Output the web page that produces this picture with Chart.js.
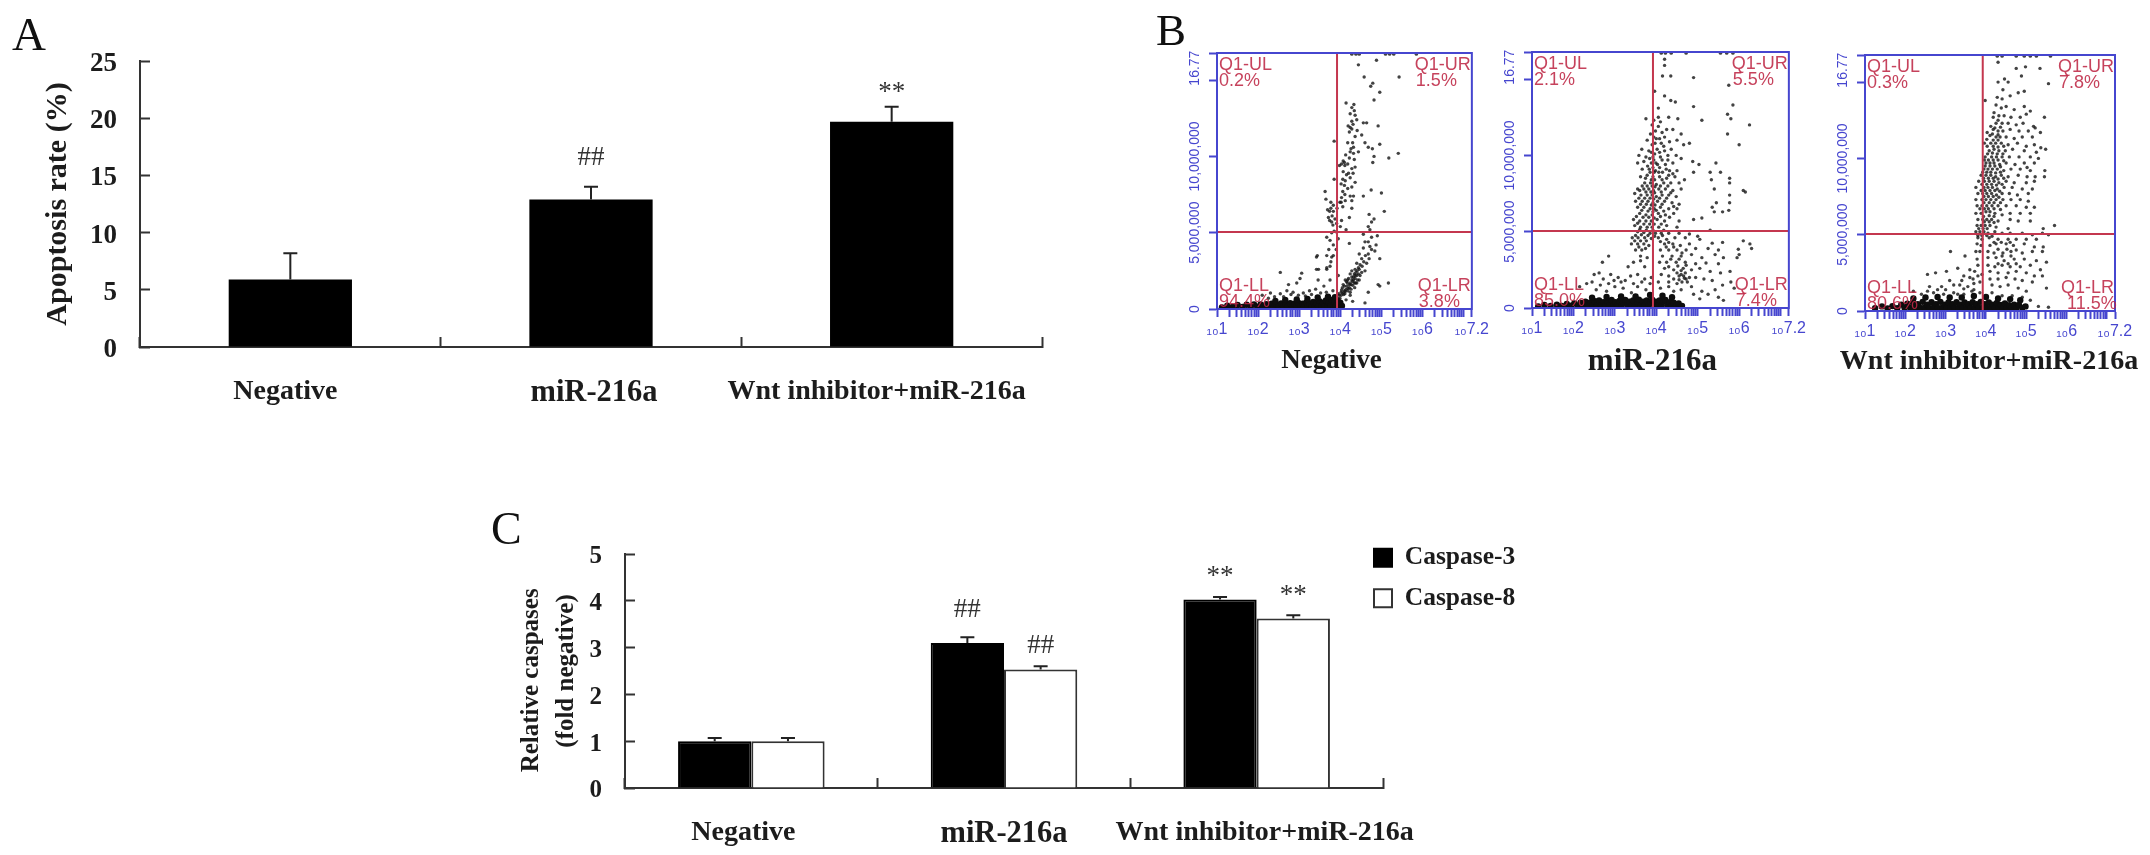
<!DOCTYPE html>
<html><head><meta charset="utf-8">
<script src="https://cdn.jsdelivr.net/npm/chart.js@4"></script>
<style>
html,body{margin:0;padding:0;background:#fff;width:2150px;height:855px;overflow:hidden}
#wrap{position:relative;width:2150px;height:855px;filter:blur(.7px)}
.box{position:absolute}
.letter{position:absolute;font-family:"Liberation Serif",serif;color:#111;line-height:1}
</style></head><body>
<div id="wrap">
<div class="letter" style="left:12px;top:11px;font-size:47px">A</div>
<div class="letter" style="left:1156px;top:8px;font-size:45px">B</div>
<div class="letter" style="left:491px;top:506px;font-size:46px">C</div>
<div class="box" style="left:0;top:0;width:1100px;height:430px"><canvas id="chartA"></canvas></div>
<div class="box" style="left:480px;top:500px;width:1050px;height:355px"><canvas id="chartC"></canvas></div>
<div class="box" style="left:1147px;top:35px;width:345px;height:354px"><canvas id="flow0"></canvas></div>
<div class="box" style="left:1462px;top:34px;width:347px;height:354px"><canvas id="flow1"></canvas></div>
<div class="box" style="left:1795px;top:37px;width:350px;height:354px"><canvas id="flow2"></canvas></div>
</div>
<script>
const groupLabels=['Negative','miR-216a','Wnt inhibitor+miR-216a'];
const apoptosisRate=[5.9,12.9,19.7];
const apoptosisErr=[2.3,1.1,1.3];
const apoptosisMarks=['','##','**'];
const apoptosisMarkLevel=[null,16.5,22.2];
const caspase3=[1.0,3.1,4.03];
const caspase3Err=[0.07,0.12,0.05];
const caspase3Marks=['','##','**'];
const caspase3MarkLevel=[null,3.81,4.52];
const caspase8=[1.0,2.53,3.62];
const caspase8Err=[0.07,0.07,0.07];
const caspase8Marks=['','##','**'];
const caspase8MarkLevel=[null,3.03,4.1];
const yTicksA=[0,5,10,15,20,25];
const yTicksC=[0,1,2,3,4,5];
const flowTitles=['Negative','miR-216a','Wnt inhibitor+miR-216a'];
const flowQuadrants=[
 ['0.2%','1.5%','94.4%','3.8%'],
 ['2.1%','5.5%','85.0%','7.4%'],
 ['0.3%','7.8%','80.6%','11.5%']];
const flowYTicks=[0,5,10,15,16.777];
const flowYLabels=['0','5,000,000','10,000,000','16.77',''];
const flowXDecades=[1,2,3,4,5,6,7];
const gateX=[3.92,3.92,3.92];
const gateY=[5.05,5.05,5.05];

const negEvents=[[4.28,16.7],[4.38,16.7],[4.46,16.7],[5.1,16.7],[5.2,16.7],[5.3,16.7],[5.85,16.7],[4.44,16],[4.88,16.3],[4.58,15.2],[5.43,15.2],[4.79,14.8],[4.74,14.6],[4.96,14.2],[4.82,13.7],[4.14,13.5],[4.33,13.4],[4.28,13.2],[4.24,12.8],[4.36,12.7],[4.4,12.4],[4.28,12.3],[4.56,12.2],[4.64,12.2],[4.92,12],[4.19,12],[4.28,11.8],[4.22,11.6],[4.41,11.7],[4.52,11.4],[4.6,10.9],[4.96,10.8],[3.85,11],[4.3,10.9],[4.32,10.6],[4.68,10.6],[4.78,10.5],[4.24,10.3],[4.44,10.3],[4.32,10.2],[5.41,10.2],[5.18,9.9],[4.82,10],[4.79,9.6],[4.07,9.7],[4.03,9.5],[3.98,9.4],[4.11,9.4],[4.28,9.2],[4.36,9.3],[4.07,9],[4.15,8.8],[4.24,8.6],[3.85,8.5],[4.06,8.5],[4.36,8.3],[4.1,8.1],[4.28,8],[4.75,7.8],[3.63,7.7],[5,7.6],[4.06,7.7],[4.24,7.4],[4.32,7.4],[4.56,7.4],[4.03,7.3],[3.65,7.2],[4.28,7.1],[3.99,7],[3.77,7],[3.83,6.8],[4.06,6.7],[4.28,6.6],[3.77,6.6],[5.07,6.4],[3.83,6.4],[4.7,6.2],[3.71,6],[4.22,6],[3.87,5.9],[4.82,5.9],[4.03,5.8],[4.76,5.7],[3.79,5.7],[3.91,5.6],[4.68,5.4],[4.72,5.2],[3.85,5.1],[3.91,5.05],[3.79,5],[4.56,4.9],[3.67,4.7],[3.95,4.6],[4.9,4.8],[4.76,4.7],[4.68,4.4],[4.6,4.4],[4.87,4.2],[4.22,4.3],[3.83,4.2],[4.72,4.1],[4.56,4],[4.68,3.6],[4.84,3.8],[4.46,3.6],[3.83,3.5],[3.44,3.5],[3.67,3.5],[4.96,3.3],[4.52,3.3],[4.4,3],[4.64,3],[4.48,2.9],[3.75,2.8],[3.67,2.6],[3.47,2.6],[4.36,2.6],[4.52,2.4],[4.24,2.3],[4.4,2.2],[4.32,2.1],[4.6,2.5],[3.95,2.2],[4.44,2.7],[4.38,2.4],[4.48,2.2],[4.28,2.5],[4.2,2],[4.3,1.8],[4.4,1.7],[4.12,1.9],[4.22,1.6],[5.17,1.7],[4.96,1.5],[4.92,1.6],[4.15,1.8],[4.24,1.7],[4.32,1.9],[4.07,1.6],[4.19,1.35],[4.03,1.25],[4.11,1],[3.95,1],[3.99,0.7],[4.24,0.9],[4.68,1.1],[4.6,0.4],[4.05,1.4],[4.1,1.2],[4.16,1.5],[4.26,1.3],[4.35,1.4],[4.36,2],[4.46,1.9],[4.02,0.9],[4.14,0.6],[4.3,0.5],[2.54,2.4],[3.06,2.35],[3.02,2],[2.74,1.6],[2.94,1.7],[3.46,1.9],[3.42,2.6],[3.67,2.7],[3.79,3.4],[3.42,3.4],[2.3,1.05],[2.54,1],[2.7,1.2],[3.1,1.05],[3.4,1.3],[2.1,0.9],[2.85,1.1],[3.25,1.2],[3.6,1.5],[3.75,1.9]];
const negDense=[[4.34,13],[4.31,12.1],[4.24,11.9],[4.36,11.3],[4.18,10.9],[4.26,10.5],[4.13,10.1],[4.22,9.9],[4.34,9.8],[4.18,9.5],[4.1,9.6],[4.31,8.9],[4.2,8.9],[4.12,8.4],[4.02,8.2],[4.18,7.9],[4.11,7.5],[4.02,7],[3.92,6.6],[4.12,7.1],[3.74,6.4],[3.8,6.1],[3.69,6.5],[3.74,5.8],[3.82,5.5],[4,5.4],[4.14,5.2],[3.75,4.5],[3.72,3.9],[3.9,3.9],[3.77,3.1],[4.76,3.9],[4.7,3.3],[4.61,3.5],[4.57,3.1],[4.53,2.8],[4.46,2.6],[4.41,2.5],[4.34,2.3],[4.44,2.3],[4.36,2.2],[4.28,2.1],[4.42,1.9],[4.34,1.7],[4.26,1.6],[4.28,1.9],[4.17,1.7],[4.18,1.2],[4.24,1.1],[4.1,1.5],[4.08,0.95],[4.14,1.3],[4.02,1.1],[3.97,0.9],[4.22,1.4],[4.3,1.55],[4.12,1.15],[4.06,1.05],[4.37,1.7],[4.18,1.9],[2.62,0.8],[2.8,0.95],[2.98,0.9],[3.15,0.85],[3.3,0.95],[3.52,1.05],[3.66,1.1],[3.82,1.2],[2.4,0.8],[2.25,0.7]];
const negBand=[[1.12,0.1],[1.25,0.22],[1.38,0.14],[1.5,0.26],[1.62,0.14],[1.72,0.28],[1.82,0.14],[1.9,0.3],[1.98,0.14],[2.06,0.3],[2.12,0.16],[2.2,0.32],[2.26,0.16],[2.33,0.34],[2.39,0.16],[2.45,0.3],[2.5,0.18],[2.56,0.36],[2.61,0.16],[2.67,0.34],[2.72,0.17],[2.78,0.38],[2.83,0.17],[2.88,0.35],[2.93,0.16],[2.98,0.4],[3.03,0.17],[3.08,0.35],[3.12,0.18],[3.17,0.42],[3.21,0.17],[3.25,0.36],[3.3,0.18],[3.34,0.46],[3.38,0.18],[3.42,0.38],[3.46,0.17],[3.5,0.5],[3.54,0.2],[3.58,0.4],[3.62,0.18],[3.65,0.56],[3.69,0.2],[3.72,0.42],[3.76,0.2],[3.79,0.6],[3.83,0.22],[3.86,0.45],[3.89,0.22],[3.93,0.58],[3.97,0.22],[4,0.42],[4.04,0.2],[2.42,0.52],[2.66,0.6],[2.94,0.62],[3.2,0.66],[3.45,0.75],[3.7,0.8],[3.87,0.78]];

const mirEvents=[[4.12,16.7],[4.22,16.7],[4.36,16.7],[4.72,16.7],[5.55,16.7],[5.7,16.7],[5.85,16.7],[4.2,16.3],[4.2,15.9],[4.15,15.2],[4.35,15.2],[4.9,15.1],[5.75,14.6],[3.96,14.2],[4.2,13.9],[4.35,13.6],[4.46,13.5],[4.05,13.1],[4.9,13.2],[5.85,13.3],[5.72,12.7],[5.1,12.3],[3.75,12.4],[4.05,12.5],[4.3,12.5],[4.52,12.4],[5.8,12.4],[3.9,12],[4.05,11.9],[4.25,11.7],[4.4,11.7],[4.6,11.4],[6.25,12],[5.72,11.4],[4.0,11.1],[4.2,11.2],[4.5,11],[3.78,11],[3.9,10.7],[4.12,10.8],[4.32,10.9],[4.66,10.7],[4.8,10.8],[6,10.7],[3.65,10.4],[3.82,10.3],[4.02,10.4],[4.2,10.3],[4.36,10.4],[3.58,10],[3.75,9.9],[3.92,9.9],[4.1,9.9],[4.28,10],[4.48,10],[4.6,9.8],[4.88,9.6],[5.03,9.4],[3.55,9.5],[3.7,9.6],[3.88,9.5],[4.03,9.4],[4.22,9.4],[4.4,9.5],[5.44,9.5],[3.66,9.1],[3.83,9.1],[3.98,9],[4.15,8.9],[4.32,9],[4.5,9],[4.9,8.9],[5.3,8.9],[5.55,8.9],[3.62,8.6],[3.78,8.7],[3.92,8.6],[4.08,8.6],[4.25,8.5],[4.45,8.6],[4.68,8.4],[5.33,8.4],[5.77,8.5],[3.72,8.2],[3.86,8.2],[4,8.1],[4.18,8.2],[4.35,8.2],[4.55,8.2],[5.77,8.2],[3.55,7.8],[3.7,7.8],[3.82,7.8],[3.93,7.7],[4.06,7.8],[4.22,7.8],[4.4,7.7],[4.6,7.8],[5.4,7.8],[6.1,7.7],[3.48,7.5],[3.63,7.4],[3.78,7.4],[3.9,7.4],[4,7.3],[4.14,7.4],[4.3,7.4],[4.48,7.3],[5.77,7.4],[6.15,7.6],[3.5,7],[3.66,7],[3.8,7],[3.92,6.9],[4.03,7],[4.2,7],[4.38,6.9],[4.55,6.8],[5.45,6.9],[5.77,6.9],[3.55,6.6],[3.7,6.6],[3.85,6.5],[3.95,6.5],[4.1,6.6],[4.3,6.5],[4.5,6.5],[5.35,6.6],[5.6,6.3],[3.6,6.2],[3.75,6.1],[3.9,6.1],[4.05,6.2],[4.22,6.1],[4.42,6.2],[5.4,6.3],[5.75,6.4],[3.45,5.8],[3.6,5.7],[3.75,5.7],[3.88,5.7],[4.02,5.8],[4.2,5.7],[4.55,5.7],[4.9,5.8],[5.1,5.9],[3.48,5.4],[3.62,5.3],[3.78,5.3],[3.9,5.3],[4.06,5.3],[4.25,5.4],[4.5,5.3],[3.55,5],[3.7,4.95],[3.85,4.9],[3.98,4.9],[4.12,4.9],[4.3,4.9],[4.55,4.9],[4.8,4.85],[5.3,5.1],[3.42,4.6],[3.56,4.6],[3.72,4.6],[3.88,4.55],[4.05,4.6],[4.25,4.5],[4.45,4.6],[4.7,4.6],[5,4.7],[5.05,4.5],[3.4,4.2],[3.55,4.2],[3.7,4.2],[3.82,4.1],[4.2,4.2],[4.4,4.2],[4.58,4.1],[4.8,4.2],[5.35,4.25],[5.6,4.3],[6.1,4.4],[6.26,4.2],[3.5,3.8],[3.65,3.8],[4.1,3.8],[4.3,3.8],[4.5,3.8],[4.72,3.8],[4.95,3.9],[5.25,3.9],[5.5,3.8],[5.98,3.85],[6.3,3.9],[6,3.5],[3.62,3.4],[3.78,3.3],[4.15,3.4],[4.38,3.4],[4.6,3.4],[4.85,3.5],[5.1,3.3],[5.42,3.5],[5.62,3.3],[5.95,3.3],[2.85,3.4],[2.7,3],[3.45,3],[3.62,3.1],[4.08,3],[4.25,3],[4.48,3],[4.7,3],[4.95,2.9],[5.2,2.95],[5.5,2.9],[3.32,2.7],[3.72,2.7],[4.2,2.6],[4.42,2.5],[4.65,2.6],[4.85,2.5],[5.05,2.6],[5.3,2.4],[5.55,2.3],[5.78,2.4],[2.15,1.4],[2.5,2.2],[2.62,2.3],[2.45,1.7],[2.32,1.6],[2.72,1.9],[2.9,2.2],[3.08,2],[3.25,1.8],[3.38,2.1],[3.55,2.2],[3.72,1.9],[3.88,2],[4.12,2.2],[4.3,2.1],[4.5,2.3],[4.6,2.2],[4.66,2.1],[4.72,1.9],[4.8,2],[4.62,1.7],[4.5,1.6],[4.95,2],[5.15,1.9],[5.35,1.8],[5.6,1.5],[5.8,1.7],[5.88,1.3],[5.42,1.2],[2.55,1.2],[2.8,1.1],[3,1.4],[3.2,1.3],[3.4,1],[3.55,1.4],[3.75,1.2],[4.1,1.3],[4.3,1.4],[4.42,1.1],[4.6,1.2],[4.85,1.4],[5.1,1.1],[5.25,0.9],[5.5,0.7],[5.62,0.5],[5.05,0.6],[4.9,0.9]];
const mirDense=[[3.94,12.3],[4.1,12.2],[3.98,11.6],[4.14,11.5],[3.86,11.4],[3.94,11.2],[4.08,11.1],[3.97,10.8],[4.18,10.6],[3.88,10.2],[3.96,10.1],[4.08,10.2],[4.14,9.7],[3.84,9.8],[3.94,9.7],[3.99,9.5],[4.28,9.7],[3.79,9.3],[3.92,9.2],[4.08,9.2],[4.24,9.1],[3.85,8.9],[3.95,8.9],[4.06,8.9],[4.4,8.8],[3.74,8.5],[3.88,8.4],[3.96,8.4],[4.14,8.4],[4.3,8.7],[3.66,8],[3.78,8],[3.9,8],[3.97,7.95],[4.1,8],[4.28,8],[3.6,7.7],[3.75,7.6],[3.87,7.6],[3.96,7.55],[4.12,7.6],[4.35,7.55],[3.58,7.2],[3.72,7.2],[3.85,7.2],[3.94,7.15],[4.08,7.2],[4.25,7.2],[3.62,6.8],[3.76,6.8],[3.88,6.75],[3.97,6.75],[4.14,6.8],[4.42,6.65],[3.65,6.4],[3.8,6.35],[3.92,6.3],[4,6.4],[4.18,6.35],[3.52,6],[3.68,5.95],[3.82,5.95],[3.95,5.9],[4.1,6],[4.32,5.95],[3.55,5.55],[3.7,5.5],[3.84,5.5],[3.95,5.5],[4.12,5.5],[3.6,5.15],[3.76,5.1],[3.92,5.1],[4.18,5.1],[3.5,4.75],[3.64,4.8],[3.8,4.75],[3.96,4.7],[4.15,4.75],[3.48,4.4],[3.62,4.4],[3.76,4.4],[4.1,4.35],[4.3,4.3],[3.58,4],[3.74,3.9],[4.24,4],[4.42,4],[4.62,3.6],[4.55,3.2],[4.35,3.2],[4.72,2.8],[4.52,2.75],[4.3,2.7],[4.6,2.45],[4.7,2.3],[4.55,2.1],[4.68,1.95],[4.55,1.85],[4.42,1.9],[4.75,1.7],[4.3,1.7],[4.05,1.7],[3.85,1.6],[3.65,1.7],[3.45,1.6],[3.15,1.7],[2.98,1.8],[2.85,1.6],[2.65,1.5]];
const mirBand=[[1.15,0.1],[1.3,0.2],[1.45,0.14],[1.6,0.22],[1.72,0.14],[1.84,0.26],[1.94,0.15],[2.02,0.3],[2.1,0.15],[2.17,0.34],[2.23,0.17],[2.29,0.42],[2.35,0.17],[2.41,0.36],[2.46,0.16],[2.52,0.44],[2.57,0.17],[2.62,0.5],[2.67,0.18],[2.72,0.38],[2.77,0.16],[2.82,0.46],[2.87,0.18],[2.92,0.52],[2.97,0.18],[3.01,0.38],[3.06,0.17],[3.11,0.46],[3.16,0.16],[3.2,0.38],[3.25,0.52],[3.3,0.18],[3.35,0.42],[3.4,0.17],[3.44,0.5],[3.49,0.16],[3.54,0.4],[3.58,0.54],[3.63,0.18],[3.68,0.42],[3.72,0.17],[3.77,0.5],[3.81,0.16],[3.86,0.4],[3.9,0.54],[3.95,0.18],[3.99,0.42],[4.04,0.17],[4.08,0.5],[4.13,0.16],[4.18,0.42],[4.22,0.52],[4.27,0.18],[4.32,0.38],[4.37,0.16],[4.42,0.34],[4.48,0.16],[4.54,0.3],[4.62,0.14],[2.45,0.68],[2.8,0.72],[3.15,0.75],[3.5,0.75],[3.85,0.85],[4.15,0.8],[4.38,0.7]];

const wntEvents=[[4.28,16.7],[4.4,16.7],[4.75,16.7],[4.95,16.7],[5.1,16.7],[5.25,16.7],[5.6,16.7],[4.3,16.3],[4.75,15.9],[4.98,16],[5.34,15.9],[4.88,15.4],[4.46,15.2],[4.55,15],[5.55,14.9],[4.3,15],[4.42,14.5],[4.8,14.3],[4.95,14.4],[4.28,14],[4.4,13.9],[4.6,14.1],[3.98,13.8],[4.25,13.5],[4.38,13.3],[4.5,13.4],[4.7,13.2],[4.95,13.4],[5.1,13.1],[4.2,13],[4.32,12.8],[4.45,12.8],[4.62,12.7],[4.85,12.7],[5,12.9],[5.45,12.7],[4.25,12.3],[4.4,12.3],[4.55,12.3],[4.75,12.2],[4.92,12.3],[5.18,12.1],[4.18,11.9],[4.3,11.8],[4.42,11.8],[4.6,11.9],[4.82,11.8],[5.05,11.8],[5.22,12],[5.35,11.7],[4.1,11.5],[4.25,11.4],[4.35,11.4],[4.5,11.4],[4.7,11.3],[4.9,11.4],[5.15,11.4],[3.96,11],[4.12,11],[4.24,11],[4.38,11],[4.55,10.9],[4.78,11],[5,10.8],[5.2,10.9],[5.36,10.7],[4.08,10.5],[4.2,10.6],[4.32,10.5],[4.48,10.5],[4.66,10.6],[4.95,10.5],[5.25,10.4],[5.48,10.6],[3.98,10.1],[4.14,10.1],[4.26,10.1],[4.4,10.1],[4.58,10.1],[4.82,10.1],[5.1,10.1],[5.3,10],[4,9.7],[4.1,9.7],[4.2,9.7],[4.34,9.6],[4.5,9.7],[4.72,9.6],[4.95,9.7],[5.2,9.7],[5.02,9.4],[3.95,9.3],[4.05,9.3],[4.16,9.3],[4.28,9.3],[4.44,9.2],[4.62,9.3],[4.85,9.3],[5.1,9.2],[5.46,9.2],[5.45,8.8],[3.88,8.9],[4,8.9],[4.12,8.9],[4.24,8.8],[4.38,8.9],[4.55,8.8],[4.8,8.9],[5.02,8.8],[5.22,8.8],[3.82,8.5],[3.96,8.5],[4.08,8.5],[4.2,8.5],[4.32,8.4],[4.5,8.5],[4.7,8.4],[5,8.4],[5.2,8.5],[3.75,8.1],[3.95,8.1],[4.05,8.1],[4.16,8.1],[4.28,8],[4.45,8.1],[4.65,8.1],[4.9,8],[5.15,8],[3.8,7.7],[3.92,7.7],[4.02,7.7],[4.14,7.7],[4.26,7.6],[4.4,7.7],[4.58,7.7],[4.78,7.6],[5.05,7.7],[3.75,7.3],[3.9,7.3],[4,7.3],[4.12,7.3],[4.25,7.3],[4.42,7.3],[4.62,7.3],[4.85,7.3],[5.05,7.2],[3.78,6.9],[3.9,6.9],[4.02,6.9],[4.15,6.9],[4.3,6.9],[4.5,6.9],[4.75,6.9],[5,6.8],[5.2,6.8],[3.75,6.4],[3.88,6.4],[4,6.5],[4.1,6.5],[4.22,6.4],[4.4,6.3],[4.6,6.4],[4.85,6.4],[5.1,6.4],[3.8,6],[3.92,6],[4.02,6],[4.14,6],[4.3,5.9],[4.6,6],[4.8,5.9],[5.1,5.9],[3.78,5.6],[3.88,5.6],[3.98,5.6],[4.1,5.6],[4.25,5.5],[5.7,5.6],[4.55,5.4],[5.42,5.4],[3.75,5.2],[3.85,5.2],[3.95,5.2],[4.05,5.1],[4.22,5.2],[4.4,5.1],[4.6,5.1],[4.9,5.1],[5.15,5],[5.4,5.1],[5.55,5],[3.8,4.8],[3.9,4.7],[4.08,4.8],[4.3,4.7],[4.55,4.7],[4.75,4.7],[5,4.7],[5.25,4.7],[3.78,4.4],[3.88,4.3],[4.1,4.3],[4.25,4.4],[4.5,4.4],[4.68,4.3],[4.95,4.4],[5.2,4.2],[5.42,4.2],[3.75,3.9],[3.85,3.9],[4.05,3.9],[4.2,3.8],[4.42,3.8],[4.62,3.9],[4.9,3.8],[5.15,3.9],[5.4,3.9],[3.12,3.9],[3.48,3.6],[3.78,3.4],[4.05,3.5],[4.25,3.5],[4.45,3.3],[4.7,3.4],[4.95,3.4],[5.25,3.3],[5.5,3.2],[3.8,3],[4.05,3],[4.22,2.9],[4.4,3],[4.6,2.9],[4.85,2.9],[5.1,3],[5.35,2.7],[3.3,2.8],[3.6,2.7],[3.72,2.6],[4.1,2.6],[4.3,2.5],[4.55,2.5],[4.75,2.6],[5,2.5],[5.2,2.3],[5.4,2.3],[2.55,2.4],[2.75,2.5],[3.02,2.6],[3.45,2.3],[3.6,2.2],[3.8,2.3],[4.1,2.1],[4.3,2.1],[4.5,2.2],[4.72,2.1],[4.9,2],[5.15,1.9],[2.55,1.3],[2.9,1.6],[3.1,2],[3.35,1.7],[3.55,1.6],[3.7,1.8],[3.85,1.9],[4.15,1.7],[4.35,1.6],[4.55,1.7],[4.8,1.5],[5,1.3],[5.5,1.5],[2.2,1.3],[2.4,1.1],[2.7,1.2],[2.95,1.1],[3.2,1.2],[3.45,1.1],[3.65,1.3],[3.85,1.2],[4.15,1.2],[4.4,1],[4.65,1],[4.9,0.9],[5.1,0.7],[5.3,0.3],[5.55,0.25]];
const wntDense=[[4.18,12.7],[4.3,12.5],[4.12,12.1],[4.22,12],[4.36,12.05],[4.03,11.7],[4.16,11.6],[4.3,11.55],[4.02,11.25],[4.18,11.2],[4.3,11.2],[4.03,10.8],[4.18,10.8],[4.3,10.75],[4.44,10.8],[4.04,10.3],[4.16,10.35],[4.28,10.3],[4.42,10.3],[3.96,9.9],[4.06,9.9],[4.18,9.9],[4.3,9.9],[4.44,9.85],[3.98,9.5],[4.1,9.5],[4.22,9.5],[4.36,9.45],[3.92,9.1],[4.02,9.1],[4.12,9.1],[4.24,9.05],[4.36,9.1],[3.94,8.7],[4.06,8.7],[4.18,8.7],[4.3,8.65],[4.44,8.7],[3.9,8.3],[4.02,8.3],[4.14,8.3],[4.26,8.25],[4.4,8.3],[3.88,7.9],[3.98,7.9],[4.1,7.9],[4.22,7.9],[4.34,7.85],[3.95,7.5],[4.06,7.5],[4.18,7.5],[4.32,7.45],[3.95,7.1],[4.08,7.1],[4.2,7.1],[4.36,7.1],[3.85,6.7],[3.96,6.7],[4.06,6.7],[4.2,6.7],[4.36,6.65],[3.94,6.2],[4.08,6.25],[4.2,6.2],[3.96,5.85],[4.08,5.85],[4.2,5.8],[3.82,5.4],[3.93,5.4],[4.03,5.4],[3.8,4.95],[3.9,4.95],[4.02,4.95],[4.15,4.9],[4.2,4.5],[4.38,4.5],[4.6,4.5],[4.3,4.05],[4.52,4.05],[4.75,4],[4.4,3.6],[4.62,3.6],[4.55,3.1],[4.3,3.1],[4.75,3.1],[3.9,2.4],[3.68,2.1],[3.4,2],[3.2,1.7],[3,1.4],[2.8,1.4],[2.6,1.6],[3.7,1.4],[3.45,1.45],[3.3,1.1]];
const wntBand=[[1.25,0.18],[1.42,0.3],[1.56,0.16],[1.68,0.32],[1.8,0.18],[1.9,0.42],[1.98,0.2],[2.05,0.48],[2.12,0.2],[2.19,0.56],[2.25,0.22],[2.31,0.45],[2.37,0.2],[2.43,0.6],[2.48,0.22],[2.54,0.42],[2.59,0.2],[2.65,0.58],[2.7,0.22],[2.76,0.44],[2.81,0.2],[2.87,0.6],[2.92,0.22],[2.97,0.42],[3.02,0.2],[3.07,0.56],[3.12,0.22],[3.17,0.44],[3.22,0.2],[3.27,0.58],[3.32,0.22],[3.37,0.42],[3.42,0.2],[3.47,0.56],[3.52,0.22],[3.57,0.44],[3.62,0.2],[3.67,0.58],[3.72,0.22],[3.77,0.44],[3.82,0.2],[3.87,0.6],[3.92,0.22],[3.97,0.44],[4.02,0.2],[4.07,0.56],[4.12,0.22],[4.17,0.42],[4.22,0.2],[4.27,0.52],[4.32,0.22],[4.37,0.4],[4.42,0.2],[4.47,0.5],[4.52,0.22],[4.58,0.38],[4.64,0.2],[4.7,0.42],[4.76,0.2],[4.82,0.4],[4.9,0.2],[4.98,0.3],[2.2,0.82],[2.5,0.88],[2.8,0.92],[3.1,0.88],[3.4,0.88],[3.7,0.98],[4,0.92],[4.3,0.82],[4.6,0.78],[4.85,0.7]];
const flowEvents=[negEvents.concat(negDense),mirEvents.concat(mirDense),wntEvents.concat(wntDense)];
const flowBands=[negBand,mirBand,wntBand];

const SERIF='"Liberation Serif",serif', SANS='"Liberation Sans",sans-serif';
const INK='#1c1c1c', AXIS='#333', BLUE='#4646cf', RED='#c4374f';
Chart.defaults.animation=false;
Chart.defaults.responsive=true;
Chart.defaults.maintainAspectRatio=false;

const tweakLabels={id:'tweakLabels',beforeDraw(chart){
  const t=chart.config._config.labelTweak; if(!t) return;
  for(const id of Object.keys(t)){
    const s=chart.scales[id], items=s.getLabelItems(chart.chartArea);
    items.forEach((it,i)=>{ if(it._tw) return; it._tw=true;
      const r=t[id](i,chart,it); const o=it.options.translation;
      it.options.translation=[r[0]==null?o[0]:o[0]+r[0], r[1]==null?o[1]:o[1]+r[1]];
      if(r[2]!=null) it.options.translation[0]=r[2];
    });
  }
}};
const barExtras={id:'barExtras',afterDatasetsDraw(chart){
  const {ctx,scales:{y}}=chart;
  chart.data.datasets.forEach((ds,di)=>{
    const meta=chart.getDatasetMeta(di);
    meta.data.forEach((bar,i)=>{
      const top=y.getPixelForValue(ds.data[i]), e=y.getPixelForValue(ds.data[i]+ds.errs[i]);
      ctx.save();ctx.strokeStyle='#222';ctx.lineWidth=2;ctx.beginPath();
      ctx.moveTo(bar.x,top);ctx.lineTo(bar.x,e);
      ctx.moveTo(bar.x-7,e);ctx.lineTo(bar.x+7,e);ctx.stroke();
      if(ds.marks[i]){
        ctx.fillStyle='#333';ctx.font='27px '+SERIF;ctx.textAlign='center';ctx.textBaseline='middle';
        ctx.fillText(ds.marks[i],bar.x,y.getPixelForValue(ds.markLevels[i]));
      }
      ctx.restore();
    });
  });
}};
function barChart(id,opt){
  return new Chart(document.getElementById(id),{type:'bar',
    data:{labels:groupLabels,datasets:opt.datasets},
    plugins:[tweakLabels,barExtras].concat(opt.plugins||[]),
    labelTweak:{x:i=>[opt.labelDx[i],null],y:()=>[null,3]},
    options:{
      layout:{padding:opt.padding},
      plugins:{legend:opt.legend||{display:false},tooltip:{enabled:false}},
      scales:{
        x:{grid:{drawOnChartArea:false,tickLength:-opt.tick,tickColor:AXIS,tickWidth:2,offset:true},
           border:{color:AXIS,width:2},
           ticks:{color:INK,font:c=>({family:SERIF,weight:'bold',size:c.index===1?30.5:28}),padding:opt.xPad,maxRotation:0,autoSkip:false},
           afterFit:s=>{s.height=opt.xH}},
        y:{min:0,max:opt.yMax,afterBuildTicks:s=>{s.ticks=opt.yTicks.map(v=>({value:v}))},
           grid:{drawOnChartArea:false,tickLength:-opt.tick,tickColor:AXIS,tickWidth:2},
           border:{color:AXIS,width:2},
           ticks:{color:INK,font:{family:SERIF,weight:'bold',size:opt.yFont},padding:opt.yPad},
           title:{display:true,text:opt.yTitle,color:INK,font:{family:SERIF,weight:'bold',size:opt.yTitleFont,lineHeight:opt.yTitleLH},padding:{top:opt.yTitlePad,bottom:0}},
           afterFit:s=>{s.width=opt.yW}}
      }
    }});
}
barChart('chartA',{
  datasets:[{label:'Apoptosis rate',data:apoptosisRate,errs:apoptosisErr,marks:apoptosisMarks,markLevels:apoptosisMarkLevel,
    backgroundColor:'#000',borderColor:'#000',borderWidth:0,barPercentage:.41,categoryPercentage:1}],
  padding:{top:61,right:58,left:0,bottom:0},yMax:25,yTicks:yTicksA,tick:10,yFont:27,xPad:38,yPad:33,xH:83,yW:140,
  yTitle:'Apoptosis rate (%)',yTitleFont:30,yTitleLH:1.2,yTitlePad:40,labelDx:[-5,3,-15]});

const legendPlace={id:'legendPlace',afterLayout(chart){
  const l=chart.legend; l.left=879;l.top=30;l.right=1050;l.bottom=355;
}};
barChart('chartC',{
  datasets:[
   {label:'Caspase-3',data:caspase3,errs:caspase3Err,marks:caspase3Marks,markLevels:caspase3MarkLevel,backgroundColor:'#000',borderColor:'#000',borderWidth:2,barPercentage:1,categoryPercentage:.58},
   {label:'Caspase-8',data:caspase8,errs:caspase8Err,marks:caspase8Marks,markLevels:caspase8MarkLevel,backgroundColor:'#fff',borderColor:'#333',borderWidth:2,barPercentage:1,categoryPercentage:.58}],
  padding:{top:54,right:147,left:0,bottom:0},yMax:5,yTicks:yTicksC,tick:10,yFont:25,xPad:38,yPad:33,xH:67,yW:145,
  yTitle:['Relative caspases   ','(fold negative)'],yTitleFont:25,yTitleLH:1.4,yTitlePad:34,labelDx:[-8,0,8],
  plugins:[legendPlace],
  legend:{display:true,position:'chartArea',align:'start',labels:{boxWidth:18,boxHeight:18,padding:15,color:INK,font:{family:SERIF,weight:'bold',size:25.5}}}});

function flowChart(k){
  const ticks=[];
  for(let d=1;d<=7;d++)for(let m=1;m<=9;m++){const v=d+Math.log10(m);if(v<=7.2)ticks.push(v);}
  ticks.push(7.2);
  const quadPlugin={id:'quad',afterDatasetsDraw(chart){
    const {ctx,chartArea:a,scales:{x,y}}=chart;
    ctx.save();
    ctx.strokeStyle=RED;ctx.lineWidth=2;ctx.beginPath();
    ctx.moveTo(x.getPixelForValue(gateX[k]),a.top);ctx.lineTo(x.getPixelForValue(gateX[k]),a.bottom);
    ctx.moveTo(a.left,y.getPixelForValue(gateY[k]));ctx.lineTo(a.right,y.getPixelForValue(gateY[k]));ctx.stroke();
    ctx.strokeStyle=BLUE;ctx.lineWidth=2;ctx.strokeRect(a.left,a.top,a.width,a.height);
    ctx.fillStyle='rgba(190,40,70,.88)';ctx.font='18px '+SANS;ctx.textBaseline='middle';
    const q=flowQuadrants[k];
    ctx.textAlign='left';
    ctx.fillText('Q1-UL',a.left+2,a.top+12);ctx.fillText(q[0],a.left+2,a.top+28);
    ctx.fillText('Q1-LL',a.left+2,a.bottom-23);ctx.fillText(q[2],a.left+2,a.bottom-7);
    ctx.textAlign='right';
    ctx.fillText('Q1-UR',a.right-1,a.top+12);ctx.textAlign='left';ctx.fillText(q[1],a.right-56,a.top+28);
    ctx.textAlign='right';ctx.fillText('Q1-LR',a.right-1,a.bottom-23);
    ctx.textAlign='left';ctx.fillText(q[3],a.right-(q[3].length>4?48:53),a.bottom-7);
    ctx.fillStyle=INK;ctx.font='bold '+[27,31,28][k]+'px '+SERIF;ctx.textAlign='center';
    ctx.fillText(flowTitles[k],(a.left+a.right)/2+[-13,-8,-1][k],a.bottom+[52,54,51][k]);
    ctx.restore();
  }};
  const pad={top:18,right:[20,20,30][k],left:0,bottom:0};
  return new Chart(document.getElementById('flow'+k),{type:'scatter',
    data:{datasets:[
      {data:flowEvents[k].map(p=>({x:p[0],y:p[1]})),pointRadius:1.7,backgroundColor:'rgba(20,20,20,.8)',borderWidth:0},
      {data:flowBands[k].map(p=>({x:p[0],y:p[1]})),pointRadius:3.2,backgroundColor:'#0d0d0d',borderWidth:0}]},
    plugins:[tweakLabels,quadPlugin],
    labelTweak:{y:(i,chart)=>[null,i===3?-12:0,chart.chartArea.left-22]},
    options:{
      layout:{padding:pad},
      plugins:{legend:{display:false},tooltip:{enabled:false}},
      scales:{
        x:{type:'linear',min:1,max:7.2,afterBuildTicks:s=>{s.ticks=ticks.map(v=>({value:v}))},
           grid:{drawOnChartArea:false,tickLength:8,tickColor:BLUE,tickWidth:2},border:{color:BLUE,width:2},
           ticks:{color:BLUE,autoSkip:false,maxRotation:0,padding:3,font:{family:SANS,size:16},
             callback:v=>{const i=flowXDecades.indexOf(v);if(i>=0&&v<7)return '₁₀'+v;return Math.abs(v-7.2)<1e-9?'₁₀7.2':'';}},
           afterFit:s=>{s.height=80}},
        y:{min:0,max:16.777,afterBuildTicks:s=>{s.ticks=flowYTicks.map(v=>({value:v}))},
           grid:{drawOnChartArea:false,tickLength:8,tickColor:BLUE,tickWidth:2},border:{color:BLUE,width:2},
           ticks:{color:BLUE,autoSkip:false,minRotation:90,maxRotation:90,crossAlign:'center',font:{family:SANS,size:14},
             callback:(v,i)=>flowYLabels[i]},
           afterFit:s=>{s.width=70}}
      }
    }});
}
[0,1,2].forEach(flowChart);
</script>
</body></html>
